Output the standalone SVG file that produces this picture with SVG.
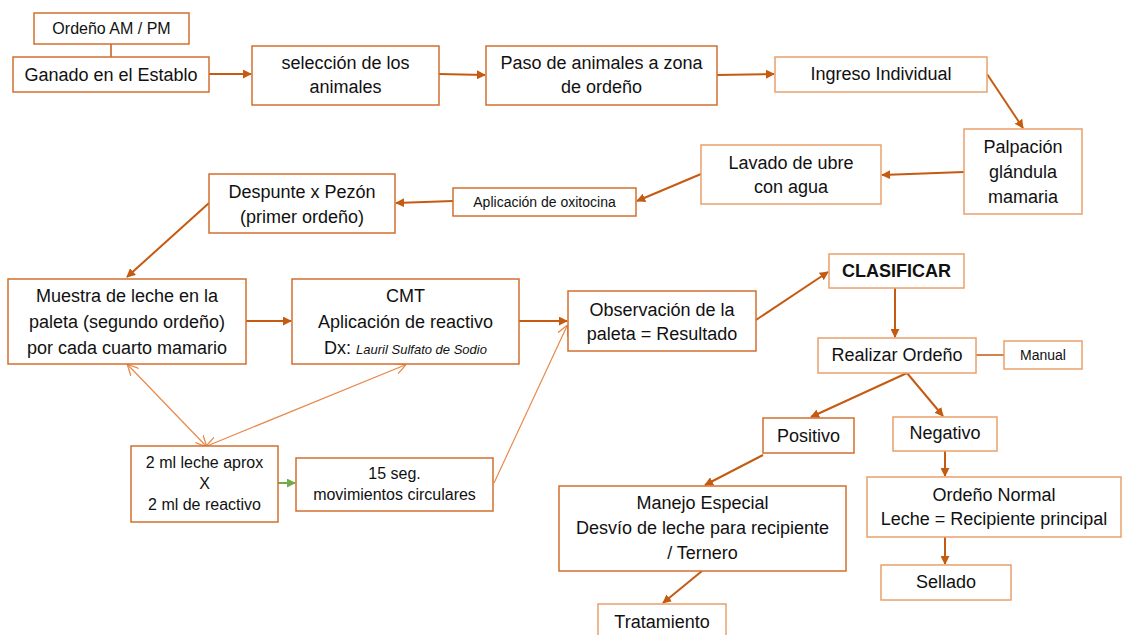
<svg xmlns="http://www.w3.org/2000/svg" width="1125" height="635" viewBox="0 0 1125 635">
<style>
.bx{fill:#fff;stroke:#D2702E;stroke-width:1.5}
.bl{fill:#fff;stroke:#E9A06C;stroke-width:1.5}
.t{font-family:"Liberation Sans",Arial,sans-serif;font-size:18px;fill:#111;text-anchor:middle}
.s{font-size:14px}
.m{font-size:16px}
.b{font-weight:bold}
.i{font-style:italic;font-size:13px}
.ar{stroke:#C55A11;stroke-width:2;fill:none;marker-end:url(#ah)}
.ln{stroke:#C55A11;stroke-width:1.5;fill:none}
.th{stroke:#E8884A;stroke-width:1.2;fill:none}
</style>
<defs>
<marker id="ah" viewBox="0 0 10 10" refX="9" refY="5" markerWidth="9" markerHeight="9" markerUnits="userSpaceOnUse" orient="auto"><path d="M0,0 L10,5 L0,10 z" fill="#C55A11"/></marker>
<marker id="ag" viewBox="0 0 10 10" refX="9" refY="5" markerWidth="9" markerHeight="9" markerUnits="userSpaceOnUse" orient="auto"><path d="M0,0 L10,5 L0,10 z" fill="#70AD47"/></marker>
<marker id="av" viewBox="0 0 10 10" refX="9" refY="5" markerWidth="11" markerHeight="11" markerUnits="userSpaceOnUse" orient="auto-start-reverse"><path d="M0,0 L10,5 L0,10" fill="none" stroke="#E8884A" stroke-width="1.2"/></marker>
</defs>
<rect width="1125" height="635" fill="#fff"/>
<g id="connectors">
<line class="ln" x1="111" y1="44" x2="111" y2="57"/>
<line class="ar" x1="209" y1="74" x2="251" y2="74"/>
<line class="ar" x1="439" y1="74" x2="485" y2="75"/>
<line class="ar" x1="717" y1="75" x2="774" y2="74"/>
<line class="ar" x1="987" y1="74" x2="1023" y2="128"/>
<line class="ar" x1="964" y1="172" x2="882" y2="175"/>
<line class="ar" x1="701" y1="174" x2="637" y2="201"/>
<line class="ar" x1="453" y1="201" x2="396" y2="203"/>
<line class="ar" x1="209" y1="203" x2="127" y2="277"/>
<line class="ar" x1="246" y1="321" x2="291" y2="321"/>
<line class="ar" x1="519" y1="321" x2="567" y2="321"/>
<line class="ar" x1="756" y1="320" x2="828" y2="272"/>
<line class="ar" x1="895" y1="288" x2="895" y2="337"/>
<line class="ln" x1="976" y1="355" x2="1004" y2="355"/>
<line class="ar" x1="907" y1="373" x2="811" y2="417"/>
<line class="ar" x1="907" y1="373" x2="943" y2="416"/>
<line class="ar" x1="763" y1="455" x2="705" y2="485"/>
<line class="ar" x1="945" y1="451" x2="945" y2="476"/>
<line class="ar" x1="945" y1="537" x2="945" y2="564"/>
<line class="ar" x1="702" y1="571" x2="663" y2="603"/>
<line class="th" x1="128" y1="365" x2="206" y2="446" marker-start="url(#av)" marker-end="url(#av)"/>
<line class="th" x1="405" y1="365" x2="207" y2="446" marker-start="url(#av)" marker-end="url(#av)"/>
<line class="th" x1="494" y1="483" x2="567" y2="326" marker-end="url(#av)"/>
<line x1="278" y1="483" x2="295" y2="483" stroke="#70AD47" stroke-width="2" marker-end="url(#ag)"/>
</g>
<g id="n-ordeno-ampm"><rect class="bx" x="34" y="13" width="155" height="31"/><text class="t m" x="111.5" y="34">Ordeño AM / PM</text></g>
<g id="n-ganado"><rect class="bx" x="13" y="57" width="196" height="35"/><text class="t" x="111" y="81">Ganado en el Establo</text></g>
<g id="n-seleccion"><rect class="bx" x="252" y="46" width="187" height="59"/><text class="t" x="345.5" y="69">selección de los</text><text class="t" x="345.5" y="93">animales</text></g>
<g id="n-paso"><rect class="bx" x="486" y="46" width="231" height="59"/><text class="t" x="601.5" y="69">Paso de animales a zona</text><text class="t" x="601.5" y="93">de ordeño</text></g>
<g id="n-ingreso"><rect class="bl" x="775" y="57" width="212" height="35"/><text class="t" x="881" y="80">Ingreso Individual</text></g>
<g id="n-palpacion"><rect class="bl" x="964" y="129" width="118" height="85"/><text class="t" x="1023" y="153">Palpación</text><text class="t" x="1023" y="178">glándula</text><text class="t" x="1023" y="203">mamaria</text></g>
<g id="n-lavado"><rect class="bl" x="701" y="145" width="180" height="59"/><text class="t" x="791" y="169">Lavado de ubre</text><text class="t" x="791" y="193">con agua</text></g>
<g id="n-oxitocina"><rect class="bx" x="453" y="188" width="183" height="28"/><text class="t s" x="544.5" y="207">Aplicación de oxitocina</text></g>
<g id="n-despunte"><rect class="bx" x="209" y="174" width="186" height="59"/><text class="t" x="302" y="198">Despunte x Pezón</text><text class="t" x="302" y="223">(primer ordeño)</text></g>
<g id="n-muestra"><rect class="bx" x="8" y="279" width="238" height="85"/><text class="t" x="127" y="302">Muestra de leche en la</text><text class="t" x="127" y="328">paleta (segundo ordeño)</text><text class="t" x="127" y="354">por cada cuarto mamario</text></g>
<g id="n-cmt"><rect class="bx" x="292" y="279" width="227" height="85"/><text class="t" x="405.5" y="302">CMT</text><text class="t" x="405.5" y="328">Aplicación de reactivo</text><text class="t" x="405.5" y="354">Dx: <tspan class="i">Lauril Sulfato de Sodio</tspan></text></g>
<g id="n-observacion"><rect class="bx" x="568" y="291" width="188" height="60"/><text class="t" x="662" y="316">Observación de la</text><text class="t" x="662" y="340">paleta = Resultado</text></g>
<g id="n-clasificar"><rect class="bl" x="829" y="254" width="135" height="34"/><text class="t b" x="896.5" y="277">CLASIFICAR</text></g>
<g id="n-realizar"><rect class="bl" x="818" y="338" width="158" height="35"/><text class="t" x="897" y="361">Realizar Ordeño</text></g>
<g id="n-manual"><rect class="bl" x="1004" y="341" width="78" height="28"/><text class="t s" x="1043" y="360">Manual</text></g>
<g id="n-positivo"><rect class="bx" x="763" y="418" width="91" height="35"/><text class="t" x="808.5" y="442">Positivo</text></g>
<g id="n-negativo"><rect class="bl" x="893" y="417" width="104" height="34"/><text class="t" x="945" y="439">Negativo</text></g>
<g id="n-manejo"><rect class="bx" x="559" y="486" width="287" height="85"/><text class="t" x="702.5" y="509">Manejo Especial</text><text class="t" x="702.5" y="534">Desvío de leche para recipiente</text><text class="t" x="702.5" y="559">/ Ternero</text></g>
<g id="n-tratamiento"><rect class="bl" x="598" y="604" width="128" height="40"/><text class="t" x="662" y="628">Tratamiento</text></g>
<g id="n-ordeno-normal"><rect class="bl" x="867" y="477" width="254" height="60"/><text class="t" x="994" y="501">Ordeño Normal</text><text class="t" x="994" y="525">Leche = Recipiente principal</text></g>
<g id="n-sellado"><rect class="bl" x="881" y="565" width="130" height="35"/><text class="t" x="946" y="588">Sellado</text></g>
<g id="n-2ml"><rect class="bx" x="131" y="446" width="147" height="76"/><text class="t m" x="204.5" y="468">2 ml leche aprox</text><text class="t m" x="204.5" y="489">X</text><text class="t m" x="204.5" y="510">2 ml de reactivo</text></g>
<g id="n-15seg"><rect class="bx" x="296" y="458" width="197" height="53"/><text class="t m" x="394.5" y="479">15 seg.</text><text class="t m" x="394.5" y="500">movimientos circulares</text></g>
</svg>
